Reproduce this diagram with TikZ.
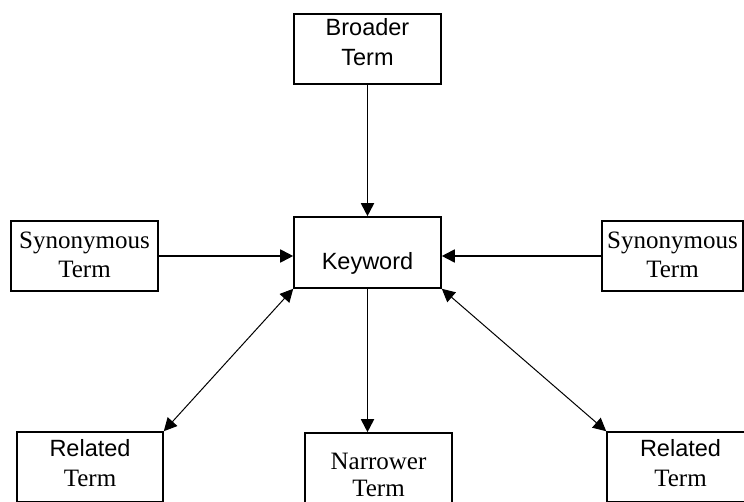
\documentclass[tikz,border=0pt]{standalone}
\usepackage{fontspec}
\setmainfont{Liberation Serif}
\setsansfont{Liberation Sans}
\usetikzlibrary{arrows.meta}
\begin{document}
\begin{tikzpicture}[x=1pt,y=-1pt,
  box/.style={draw=black,line width=1.6pt,rectangle,minimum width=147pt,minimum height=70pt,inner sep=0pt},
  sanslbl/.style={font=\sffamily\fontsize{23.5}{25}\selectfont,inner sep=0pt,anchor=base},
  seriflbl/.style={font=\rmfamily\fontsize{25}{27}\selectfont,inner sep=0pt,anchor=base},
  conn/.style={line width=1.8pt,-{Triangle[width=13pt,length=13pt]}},
  dconn/.style={line width=1pt,{Triangle[width=13pt,length=13pt]}-{Triangle[width=13pt,length=13pt]}}]
\useasboundingbox (0,0) rectangle (744,502);
\clip (0,0) rectangle (744,502);
% boxes
\node[box] (bt) at (367.5,49) {};
\node[box,minimum height=71pt] (kw) at (367.5,252.5) {};
\node[box] (sl) at (84.5,256) {};
\node[box,minimum width=141pt] (sr) at (672.5,256) {};
\node[box,minimum width=146pt] (rl) at (90,467) {};
\node[box] (nt) at (378.5,468) {};
\node[box] (rr) at (680.5,467) {};
% labels
\node[sanslbl] (btA) at (367.5,36) {Broader};
\node[sanslbl] (btB) at (367.5,66) {Term};
\node[sanslbl] (kwA) at (367.5,270) {Keyword};
\node[seriflbl] (slA) at (84.5,249) {Synonymous};
\node[seriflbl] (slB) at (84.5,278) {Term};
\node[seriflbl] (srA) at (672.5,249) {Synonymous};
\node[seriflbl] (srB) at (672.5,278) {Term};
\node[sanslbl] (rlA) at (90,456) {Related};
\node[seriflbl] (rlB) at (90,486) {Term};
\node[seriflbl] (ntA) at (378.5,469) {Narrower};
\node[seriflbl] (ntB) at (378.5,496) {Term};
\node[sanslbl] (rrA) at (680.5,456) {Related};
\node[seriflbl] (rrB) at (680.5,486) {Term};
% connectors
\draw[conn] (bt.south -| kw.north) -- (kw.north);
\draw[conn] (sl.east) -- (sl.east -| kw.west);
\draw[conn] (sr.west) -- (sr.west -| kw.east);
\draw[conn] (kw.south) -- (kw.south |- nt.north);
\draw[dconn] (kw.south west) -- (rl.north east);
\draw[dconn] (kw.south east) -- (rr.north west);
\end{tikzpicture}
\end{document}
